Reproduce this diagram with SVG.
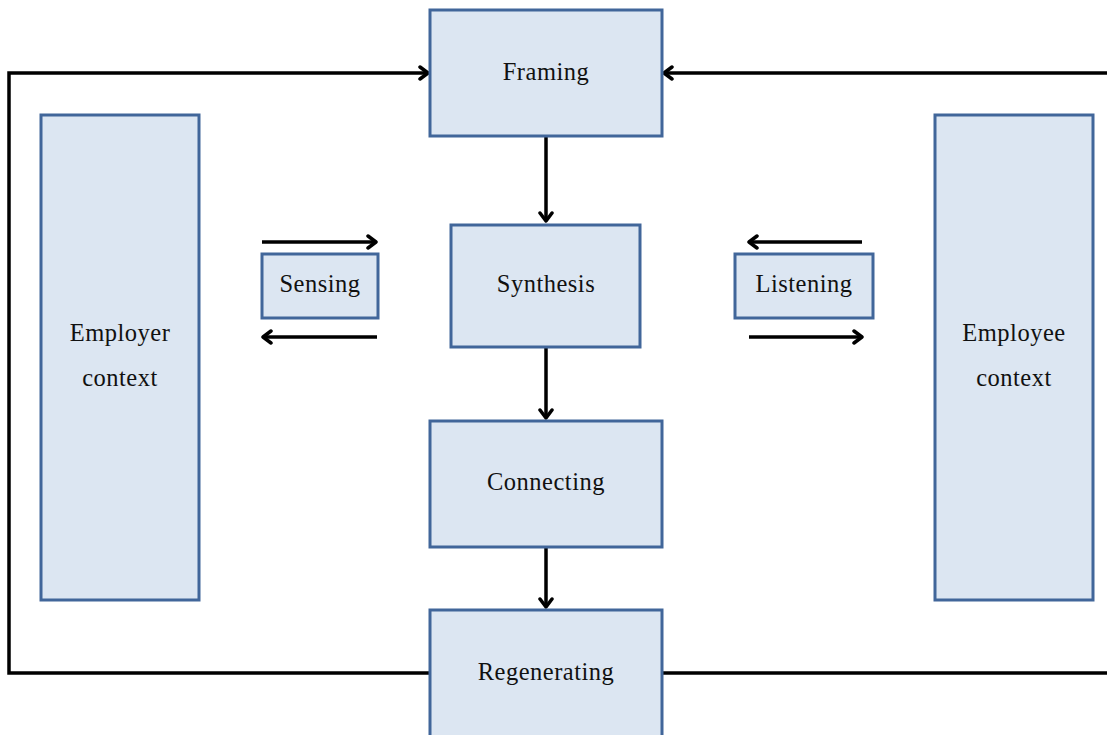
<svg xmlns="http://www.w3.org/2000/svg" width="1107" height="735" viewBox="0 0 1107 735">
<style>
.box{fill:#dce6f2;stroke:#41669a;stroke-width:3}
.t{font-family:"Liberation Serif","Times New Roman",serif;font-size:24.5px;fill:#111;text-anchor:middle;letter-spacing:0.5px}
.c{fill:none;stroke:#000;stroke-width:3.5}
</style>
<defs>
<marker id="ah" viewBox="0 0 16 16" refX="13" refY="8" markerWidth="16" markerHeight="16" markerUnits="userSpaceOnUse" orient="auto">
<path d="M5,2 L13,8 L5,14" fill="none" stroke="#000" stroke-width="3.5" stroke-linecap="round" stroke-linejoin="round"/>
</marker>
</defs>
<rect width="1107" height="735" fill="#fff"/>
<g id="connectors">
<path class="c" d="M430,673 H9 V73 H428" marker-end="url(#ah)"/>
<path class="c" d="M662,673 H1107"/>
<path class="c" d="M1107,73 H664" marker-end="url(#ah)"/>
<path class="c" d="M546,137 V221" marker-end="url(#ah)"/>
<path class="c" d="M546,348 V418" marker-end="url(#ah)"/>
<path class="c" d="M546,548 V607" marker-end="url(#ah)"/>
<path class="c" d="M262,242 H376" marker-end="url(#ah)"/>
<path class="c" d="M377,337 H263" marker-end="url(#ah)"/>
<path class="c" d="M862,242 H749" marker-end="url(#ah)"/>
<path class="c" d="M749,337 H862" marker-end="url(#ah)"/>
</g>
<g id="framing"><rect class="box" x="430" y="10" width="232" height="126"/><text class="t" x="546" y="80">Framing</text></g>
<g id="synthesis"><rect class="box" x="451" y="225" width="189" height="122"/><text class="t" x="546" y="292">Synthesis</text></g>
<g id="connecting"><rect class="box" x="430" y="421" width="232" height="126"/><text class="t" x="546" y="490">Connecting</text></g>
<g id="regenerating"><rect class="box" x="430" y="610" width="232" height="130"/><text class="t" x="546" y="680">Regenerating</text></g>
<g id="sensing"><rect class="box" x="262" y="254" width="116" height="64"/><text class="t" x="320" y="292">Sensing</text></g>
<g id="listening"><rect class="box" x="735" y="254" width="138" height="64"/><text class="t" x="804" y="292">Listening</text></g>
<g id="employer"><rect class="box" x="41" y="115" width="158" height="485"/><text class="t" x="120" y="341">Employer</text><text class="t" x="120" y="386">context</text></g>
<g id="employee"><rect class="box" x="935" y="115" width="158" height="485"/><text class="t" x="1014" y="341">Employee</text><text class="t" x="1014" y="386">context</text></g>
</svg>
